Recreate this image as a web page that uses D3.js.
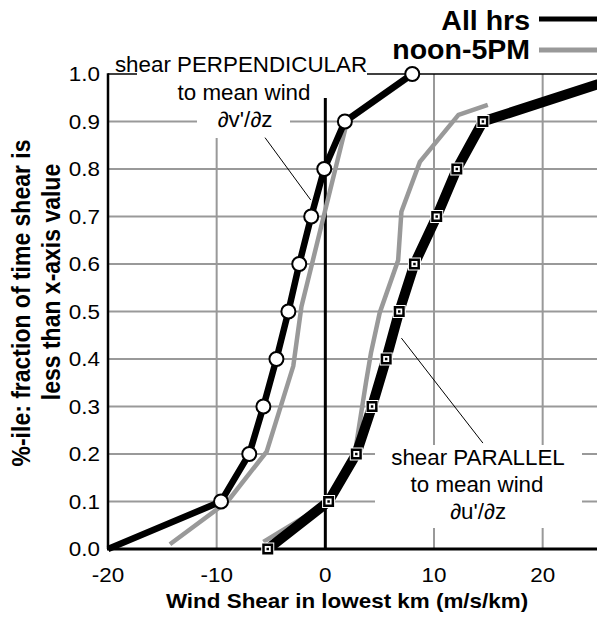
<!DOCTYPE html>
<html>
<head>
<meta charset="utf-8">
<script src="https://cdn.jsdelivr.net/npm/d3@7"></script>
<style>
  body { margin: 0; background: #fff; }
  text { font-family: "Liberation Sans", Arial, Helvetica, sans-serif; fill: #000; }
</style>
</head>
<body>
<svg id="chart" width="597" height="618"></svg>
<script>
// percentiles (deciles) for the "all hrs" curves
const pct = [0, 0.1, 0.2, 0.3, 0.4, 0.5, 0.6, 0.7, 0.8, 0.9, 1.0];
// shear perpendicular to mean wind, all hours (dv'/dz)
const perpAll = [-20, -9.6, -7.0, -5.7, -4.5, -3.4, -2.4, -1.3, -0.1, 1.8, 8.0];
// shear parallel to mean wind, all hours (du'/dz)
const paraAll = [-5.3, 0.3, 2.85, 4.3, 5.6, 6.8, 8.2, 10.25, 12.1, 14.5, 28];
// noon-5PM curves
const perpNoonX = [-14.3, -9.0, -5.4, -2.95, -2.2, 2.0, 7.6];
const perpNoonP = [0.01, 0.1, 0.205, 0.385, 0.51, 0.9, 0.99];
const paraNoonX = [-5.7, 0.35, 2.75, 3.75, 4.2, 5.0, 6.7, 7.0, 8.7, 12.25, 14.95];
const paraNoonP = [0.015, 0.099, 0.206, 0.352, 0.413, 0.497, 0.608, 0.71, 0.815, 0.914, 0.935];

const xTicks = [-20, -10, 0, 10, 20];
const yTicks = [0, 0.1, 0.2, 0.3, 0.4, 0.5, 0.6, 0.7, 0.8, 0.9, 1.0];

const GREY = "#999";

const svg = d3.select("#chart");
const x = d3.scaleLinear([-20, 25], [108, 597]);
const y = d3.scaleLinear([0, 1], [549, 74]);

// text helper, the original is a bit stretched sideways
function txt(str, tx, ty, o = {}) {
  const sx = o.sx || 1, sy = o.sy || 1;
  return svg.append("text")
    .attr("transform", `translate(${tx},${ty})` + (o.rot ? ` rotate(${o.rot})` : "") + ` scale(${sx},${sy})`)
    .attr("text-anchor", o.anchor || "middle")
    .attr("font-size", o.size || 20)
    .attr("font-weight", o.bold ? "bold" : "normal")
    .text(str);
}

// grid
svg.append("g").selectAll("line")
  .data(yTicks.slice(1, 10))
  .join("line")
  .attr("x1", x(-20)).attr("x2", x(25))
  .attr("y1", d => y(d)).attr("y2", d => y(d))
  .attr("stroke", GREY).attr("stroke-width", 2);

svg.append("g").selectAll("line")
  .data([-10, 10, 20])
  .join("line")
  .attr("x1", d => x(d)).attr("x2", d => x(d))
  .attr("y1", y(1)).attr("y2", y(0))
  .attr("stroke", GREY).attr("stroke-width", 2);

// top frame
svg.append("line")
  .attr("x1", x(-20)).attr("x2", x(25))
  .attr("y1", y(1)).attr("y2", y(1))
  .attr("stroke", "#000").attr("stroke-width", 1.5);

// white boxes behind the labels (they cut the grid)
const boxes = [
  [137, 56, 367, 78],
  [160, 78, 335, 108],
  [197, 108, 290, 138],
  [375, 445, 582, 528]
];
svg.append("g").selectAll("rect")
  .data(boxes)
  .join("rect")
  .attr("x", d => d[0]).attr("y", d => d[1])
  .attr("width", d => d[2] - d[0]).attr("height", d => d[3] - d[1])
  .attr("fill", "#fff");

// zero line + axes
svg.append("line")
  .attr("x1", x(0)).attr("x2", x(0))
  .attr("y1", 98).attr("y2", y(0))
  .attr("stroke", "#000").attr("stroke-width", 3);
svg.append("line")
  .attr("x1", x(-20)).attr("x2", x(-20))
  .attr("y1", y(1) - 0.75).attr("y2", y(0))
  .attr("stroke", "#000").attr("stroke-width", 2.5);
svg.append("line")
  .attr("x1", x(-20) - 1).attr("x2", x(25))
  .attr("y1", y(0)).attr("y2", y(0))
  .attr("stroke", "#000").attr("stroke-width", 3);

const line = d3.line().x(d => x(d[0])).y(d => y(d[1]));

// noon-5PM (grey)
svg.append("path")
  .attr("d", line(d3.zip(perpNoonX, perpNoonP)))
  .attr("fill", "none").attr("stroke", GREY).attr("stroke-width", 4.5);
svg.append("path")
  .attr("d", line(d3.zip(paraNoonX, paraNoonP)))
  .attr("fill", "none").attr("stroke", GREY).attr("stroke-width", 4.5);

// all hrs (black)
svg.append("path")
  .attr("d", line(d3.zip(perpAll, pct)))
  .attr("fill", "none").attr("stroke", "#000").attr("stroke-width", 6.5);
svg.append("path")
  .attr("d", line(d3.zip(paraAll, pct)))
  .attr("fill", "none").attr("stroke", "#000").attr("stroke-width", 10);

// circle markers
svg.append("g").selectAll("circle")
  .data(d3.zip(perpAll, pct).slice(1))
  .join("circle")
  .attr("cx", d => x(d[0])).attr("cy", d => y(d[1]))
  .attr("r", 7)
  .attr("fill", "#fff").attr("stroke", "#000").attr("stroke-width", 2);

// square markers
const sq = svg.append("g").selectAll("g")
  .data(d3.zip(paraAll, pct).slice(0, 10))
  .join("g")
  .attr("transform", d => `translate(${x(d[0])},${y(d[1])})`);
[[13, "#fff"], [11, "#000"], [6, "#fff"], [2.5, "#000"]].forEach(([s, c]) => {
  sq.append("rect")
    .attr("x", -s / 2).attr("y", -s / 2)
    .attr("width", s).attr("height", s)
    .attr("fill", c);
});

// leader lines
svg.append("line")
  .attr("x1", x(-5.55)).attr("y1", y(0.866))
  .attr("x2", x(-1.35)).attr("y2", y(0.735))
  .attr("stroke", "#000").attr("stroke-width", 1);
svg.append("line")
  .attr("x1", x(7.0)).attr("y1", y(0.444))
  .attr("x2", x(14.5)).attr("y2", y(0.223))
  .attr("stroke", "#000").attr("stroke-width", 1);

// tick labels
yTicks.forEach(d => txt(d3.format(".1f")(d), 100, y(d) + 7, { anchor: "end", size: 19.5, sx: 1.15 }));
xTicks.forEach(d => txt(d, x(d), 582, { size: 19.5, sx: 1.15 }));

// axis titles
txt("Wind Shear in lowest km (m/s/km)", 347, 608, { size: 19.5, bold: true, sx: 1.15 });
txt("%-ile: fraction of time shear is", 30, 303, { size: 23, bold: true, rot: -90, sy: 1.15 });
txt("less than x-axis value", 60, 282, { size: 23, bold: true, rot: -90, sy: 1.15 });

// annotations
txt("shear PERPENDICULAR", 241, 72, { size: 21.5, sx: 1.04 });
txt("to mean wind", 244, 100, { size: 21.5, sx: 1.04 });
txt("\u2202v'/\u2202z", 245, 127, { size: 21.5, sx: 1.04 });
txt("shear PARALLEL", 478, 465, { size: 21.5, sx: 1.04 });
txt("to mean wind", 477, 492, { size: 21.5, sx: 1.04 });
txt("\u2202u'/\u2202z", 478, 519, { size: 21.5, sx: 1.04 });

// legend
txt("All hrs", 530, 30, { size: 28.5, bold: true, anchor: "end" });
txt("noon-5PM", 530, 59, { size: 28.5, bold: true, anchor: "end" });
svg.append("line").attr("x1", 539).attr("x2", 597).attr("y1", 19).attr("y2", 19)
  .attr("stroke", "#000").attr("stroke-width", 5);
svg.append("line").attr("x1", 539).attr("x2", 597).attr("y1", 50).attr("y2", 50)
  .attr("stroke", GREY).attr("stroke-width", 5);
</script>
</body>
</html>
